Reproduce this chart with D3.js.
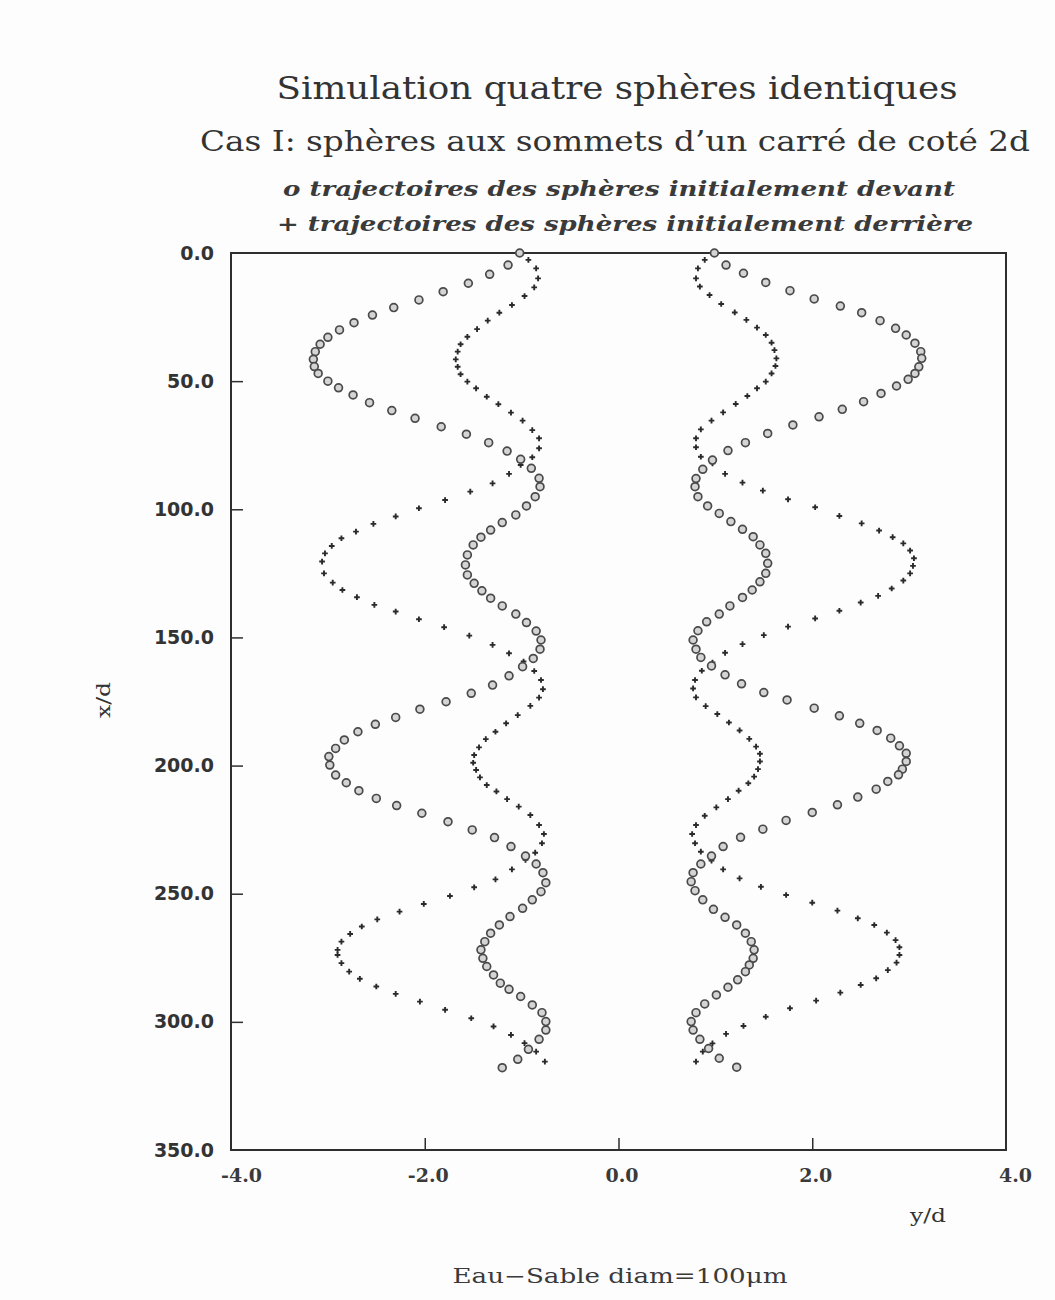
<!DOCTYPE html>
<html>
<head>
<meta charset="utf-8">
<script src="https://cdn.jsdelivr.net/npm/d3@7"></script>
<style>
  html, body { margin: 0; padding: 0; background: #fdfdfd; }
  svg { display: block; }
</style>
</head>
<body>
<script>
// ---- Data: [x/d, y/d] ----
const leftFront = [[0,-1.02],[4.7,-1.14],[8.3,-1.33],[11.8,-1.55],[15.1,-1.81],[18.3,-2.06],[21.3,-2.32],[24.2,-2.54],[27.2,-2.73],[30.0,-2.88],[32.9,-3.00],[35.6,-3.08],[38.5,-3.13],[41.5,-3.15],[44.3,-3.14],[47.0,-3.10],[50.0,-3.00],[52.6,-2.89],[55.4,-2.74],[58.4,-2.57],[61.5,-2.34],[64.5,-2.10],[67.8,-1.83],[70.7,-1.57],[74.0,-1.34],[77.3,-1.15],[80.5,-1.01],[84.0,-0.90],[87.9,-0.82],[91.2,-0.81],[95.1,-0.86],[98.7,-0.95],[102.2,-1.06],[105.2,-1.20],[108.1,-1.32],[110.9,-1.42],[113.9,-1.50],[117.8,-1.56],[121.7,-1.58],[125.6,-1.56],[128.9,-1.49],[131.8,-1.41],[134.7,-1.32],[137.7,-1.20],[140.9,-1.06],[144.2,-0.95],[147.5,-0.85],[151.0,-0.80],[154.6,-0.81],[158.2,-0.88],[161.4,-0.99],[165.0,-1.13],[168.6,-1.30],[171.8,-1.52],[175.1,-1.78],[178.0,-2.05],[181.2,-2.30],[183.9,-2.51],[186.8,-2.69],[190.0,-2.83],[193.3,-2.92],[196.5,-2.99],[199.8,-2.98],[203.7,-2.92],[206.7,-2.81],[209.8,-2.68],[212.8,-2.50],[215.6,-2.29],[218.6,-2.03],[221.9,-1.76],[225.1,-1.51],[228.1,-1.28],[231.6,-1.11],[235.3,-0.96],[238.4,-0.85],[241.8,-0.78],[245.7,-0.75],[249.2,-0.80],[252.4,-0.89],[255.7,-0.99],[258.9,-1.12],[262.2,-1.23],[265.4,-1.32],[268.7,-1.38],[271.9,-1.42],[275.2,-1.40],[278.4,-1.36],[281.7,-1.29],[284.9,-1.22],[287.3,-1.13],[290.1,-1.01],[293.4,-0.89],[296.4,-0.79],[299.9,-0.75],[303.2,-0.75],[306.8,-0.82],[310.7,-0.93],[314.6,-1.04],[317.9,-1.20]];

const leftBack = [[2.7,-0.93],[6.0,-0.85],[9.9,-0.83],[13.4,-0.87],[16.8,-0.97],[20.3,-1.10],[23.3,-1.23],[26.4,-1.35],[29.7,-1.46],[32.7,-1.56],[35.6,-1.63],[38.5,-1.66],[41.5,-1.68],[44.4,-1.66],[47.3,-1.63],[50.2,-1.56],[52.8,-1.47],[56.1,-1.36],[59.0,-1.24],[62.3,-1.11],[65.4,-0.99],[69.1,-0.89],[72.3,-0.82],[76.2,-0.82],[79.7,-0.89],[82.7,-1.01],[86.2,-1.13],[89.9,-1.30],[93.1,-1.53],[96.4,-1.79],[99.6,-2.06],[102.8,-2.30],[105.7,-2.53],[108.7,-2.71],[111.3,-2.86],[114.3,-2.96],[117.2,-3.03],[120.4,-3.06],[125.0,-3.04],[128.6,-2.95],[131.5,-2.85],[134.3,-2.70],[137.3,-2.52],[139.9,-2.30],[142.9,-2.06],[146.0,-1.80],[149.3,-1.54],[152.9,-1.30],[156.2,-1.13],[159.4,-0.98],[163.1,-0.87],[166.6,-0.80],[170.2,-0.78],[173.5,-0.82],[176.7,-0.91],[180.3,-1.04],[183.5,-1.16],[186.8,-1.27],[189.7,-1.37],[192.9,-1.44],[195.9,-1.49],[198.9,-1.50],[201.7,-1.47],[204.6,-1.43],[207.6,-1.36],[210.1,-1.26],[213.1,-1.15],[216.0,-1.03],[219.3,-0.91],[223.2,-0.82],[226.7,-0.77],[230.3,-0.79],[234.0,-0.86],[236.8,-0.96],[240.5,-1.10],[244.4,-1.27],[247.5,-1.49],[250.9,-1.74],[254.0,-2.01],[257.0,-2.26],[260.0,-2.49],[262.8,-2.65],[265.7,-2.77],[268.7,-2.86],[271.9,-2.90],[273.9,-2.90],[277.1,-2.86],[280.4,-2.78],[283.2,-2.67],[286.2,-2.50],[289.1,-2.30],[292.1,-2.05],[295.3,-1.79],[298.6,-1.52],[301.8,-1.29],[305.1,-1.11],[308.3,-0.97],[311.6,-0.85],[315.5,-0.76]];

const rightFront = [[0,0.99],[4.7,1.11],[7.9,1.29],[11.5,1.52],[14.7,1.77],[17.9,2.02],[20.7,2.29],[23.3,2.51],[26.4,2.70],[29.4,2.86],[32.0,2.97],[35.2,3.06],[38.5,3.12],[41.1,3.13],[44.4,3.10],[47.0,3.06],[49.3,2.99],[51.9,2.87],[54.8,2.71],[58.0,2.53],[61.0,2.31],[63.9,2.07],[67.1,1.80],[70.4,1.54],[74.0,1.31],[77.1,1.13],[80.8,0.97],[84.4,0.87],[88.0,0.80],[91.2,0.79],[95.1,0.82],[98.7,0.92],[101.6,1.04],[104.8,1.16],[107.8,1.28],[110.7,1.39],[113.9,1.46],[117.2,1.52],[121.1,1.54],[125.0,1.52],[128.3,1.46],[131.5,1.38],[134.4,1.28],[137.7,1.15],[140.9,1.04],[143.9,0.91],[147.4,0.82],[151.0,0.77],[154.6,0.80],[157.8,0.85],[161.1,0.96],[164.6,1.10],[168.1,1.27],[171.5,1.50],[174.4,1.74],[177.6,2.02],[180.6,2.28],[183.5,2.49],[186.3,2.67],[189.3,2.81],[192.3,2.90],[195.2,2.97],[198.4,2.97],[201.4,2.93],[203.6,2.89],[206.2,2.78],[209.2,2.66],[212.3,2.47],[215.3,2.26],[218.3,2.00],[221.4,1.73],[224.8,1.49],[228.0,1.26],[231.6,1.08],[235.3,0.96],[238.4,0.85],[241.8,0.77],[245.3,0.75],[248.8,0.79],[252.4,0.87],[256.1,0.98],[259.2,1.10],[262.2,1.22],[265.4,1.31],[268.7,1.37],[271.9,1.40],[275.2,1.39],[277.8,1.35],[280.4,1.31],[283.6,1.23],[286.5,1.13],[289.5,1.01],[293.0,0.89],[296.4,0.80],[299.9,0.75],[303.2,0.77],[306.8,0.84],[310.4,0.93],[314.2,1.04],[317.7,1.22]];

const rightBack = [[2.7,0.89],[6.0,0.82],[9.9,0.80],[13.1,0.84],[16.4,0.94],[19.9,1.06],[23.2,1.20],[26.1,1.32],[29.1,1.43],[32.0,1.52],[35.0,1.58],[37.9,1.61],[41.1,1.63],[44.1,1.62],[47.0,1.58],[50.2,1.52],[52.8,1.43],[55.8,1.33],[58.9,1.21],[62.2,1.08],[65.4,0.96],[68.8,0.85],[72.3,0.80],[75.8,0.80],[79.5,0.85],[82.1,0.97],[86.2,1.10],[89.6,1.28],[92.7,1.49],[96.1,1.75],[99.2,2.03],[102.6,2.28],[105.5,2.51],[108.3,2.69],[110.9,2.83],[113.3,2.94],[116.1,3.01],[119.1,3.05],[122.1,3.04],[125.0,3.01],[127.8,2.94],[130.9,2.82],[133.8,2.68],[136.4,2.50],[139.6,2.28],[142.6,2.03],[145.8,1.75],[149.1,1.50],[152.6,1.28],[156.0,1.10],[159.8,0.97],[163.0,0.86],[166.6,0.79],[169.9,0.77],[173.4,0.80],[176.8,0.90],[179.9,1.02],[183.2,1.14],[186.3,1.25],[189.6,1.35],[192.6,1.42],[195.4,1.46],[198.4,1.46],[201.4,1.44],[204.3,1.40],[206.9,1.34],[209.8,1.24],[213.1,1.13],[216.3,1.01],[219.6,0.89],[223.2,0.80],[226.7,0.76],[230.3,0.79],[233.6,0.85],[237.1,0.96],[240.5,1.08],[244.0,1.25],[247.3,1.47],[250.5,1.73],[253.5,2.00],[256.6,2.26],[259.6,2.47],[262.2,2.64],[265.2,2.77],[268.1,2.86],[270.9,2.90],[273.9,2.90],[276.9,2.87],[279.8,2.78],[283.0,2.66],[285.6,2.50],[288.6,2.29],[291.7,2.04],[294.7,1.77],[298.0,1.52],[301.6,1.29],[304.7,1.11],[308.4,0.97],[311.6,0.87],[315.5,0.80]];

const yTicks = [0, 50, 100, 150, 200, 250, 300, 350];   // x/d axis (vertical)
const xTicks = [-4, -2, 0, 2, 4];                         // y/d axis (horizontal)

const titleText = "Simulation quatre sphères identiques";
const subtitleText = "Cas I: sphères aux sommets d’un carré de coté 2d";
const legendFront = "o trajectoires des sphères initialement devant";
const legendBack = "+ trajectoires des sphères initialement derrière";
const footerText = "Eau−Sable diam=100μm";

// ---- Chart ----
const W = 1055, H = 1300;
const svg = d3.select("body").append("svg").attr("width", W).attr("height", H);
svg.append("rect").attr("width", W).attr("height", H).attr("fill", "#fdfdfd");

const L = 231, R = 1006, T = 253, B = 1150;
const x = d3.scaleLinear().domain([-4, 4]).range([L, R]);
const y = d3.scaleLinear().domain([0, 350]).range([T, B]);
const ink = "#2e2e2e";

function addText(t, cx, by, size, len, opts = {}) {
  const el = svg.append("text").attr("x", cx).attr("y", by)
    .attr("text-anchor", "middle")
    .attr("font-family", opts.family || "DejaVu Serif")
    .attr("font-size", size)
    .attr("fill", opts.fill || "#333")
    .text(t);
  if (opts.weight) el.attr("font-weight", opts.weight);
  if (opts.style) el.attr("font-style", opts.style);
  if (len) el.attr("textLength", len).attr("lengthAdjust", "spacingAndGlyphs");
  return el;
}
addText(titleText, 617, 99, 31, 681);
addText(subtitleText, 615, 151, 27, 830);
addText(legendFront, 619, 196, 20, 672, {style: "italic", weight: "bold", fill: "#3a3a3a"});
addText(legendBack, 625, 231, 20, 696, {style: "italic", weight: "bold", fill: "#3a3a3a"});
addText(footerText, 620, 1283, 20, 335, {fill: "#3a3a3a"});

// Axes
const gy = svg.append("g").attr("transform", `translate(${L},0)`)
  .call(d3.axisLeft(y).tickValues(yTicks).tickFormat(d3.format(".1f")).tickSize(-12).tickPadding(17));
gy.select(".domain").remove();
gy.selectAll(".tick line").attr("stroke", ink).attr("stroke-width", 1.5)
  .filter(d => d === 0 || d === 350).remove();
gy.selectAll(".tick text").attr("font-family", "DejaVu Sans").attr("font-weight", "bold")
  .attr("font-size", 19).attr("fill", "#333");

const gx = svg.append("g").attr("transform", `translate(0,${B})`)
  .call(d3.axisBottom(x).tickValues(xTicks).tickFormat(d3.format(".1f")).tickSize(-12).tickPadding(19));
gx.select(".domain").remove();
gx.selectAll(".tick line").attr("stroke", ink).attr("stroke-width", 1.5)
  .filter(d => d === -4 || d === 4).remove();
gx.selectAll(".tick text").attr("font-family", "DejaVu Serif").attr("font-weight", "bold")
  .attr("font-size", 19).attr("fill", "#3a3a3a")
  .attr("dx", d => (d === -4 ? 10 : d === 4 ? 9 : 3))
  .text(d => d3.format(".1f")(d).replace("−", "-"));

// Frame
svg.append("rect").attr("x", L).attr("y", T).attr("width", R - L).attr("height", B - T)
  .attr("fill", "none").attr("stroke", ink).attr("stroke-width", 2);

// Axis labels
addText("y/d", 928, 1222, 19, 36, {fill: "#333"});
svg.append("text").attr("transform", "translate(110,700) rotate(-90)")
  .attr("text-anchor", "middle").attr("font-family", "DejaVu Serif")
  .attr("font-size", 19).attr("fill", "#333")
  .attr("textLength", 36).attr("lengthAdjust", "spacingAndGlyphs").text("x/d");

// Marks
const plot = svg.append("g");
const crossPath = d3.symbol().type(d3.symbolCross).size(18);
[leftBack, rightBack].forEach(series => {
  plot.append("g").selectAll("path").data(series).join("path")
    .attr("transform", d => `translate(${x(d[1])},${y(d[0])})`)
    .attr("d", crossPath)
    .attr("fill", "#2a2a2a");
});
[leftFront, rightFront].forEach(series => {
  plot.append("g").selectAll("circle").data(series).join("circle")
    .attr("cx", d => x(d[1])).attr("cy", d => y(d[0]))
    .attr("r", 3.9)
    .attr("fill", "#d4d4d4")
    .attr("stroke", "#4a4a4a").attr("stroke-width", 1.7);
});
</script>
</body>
</html>
